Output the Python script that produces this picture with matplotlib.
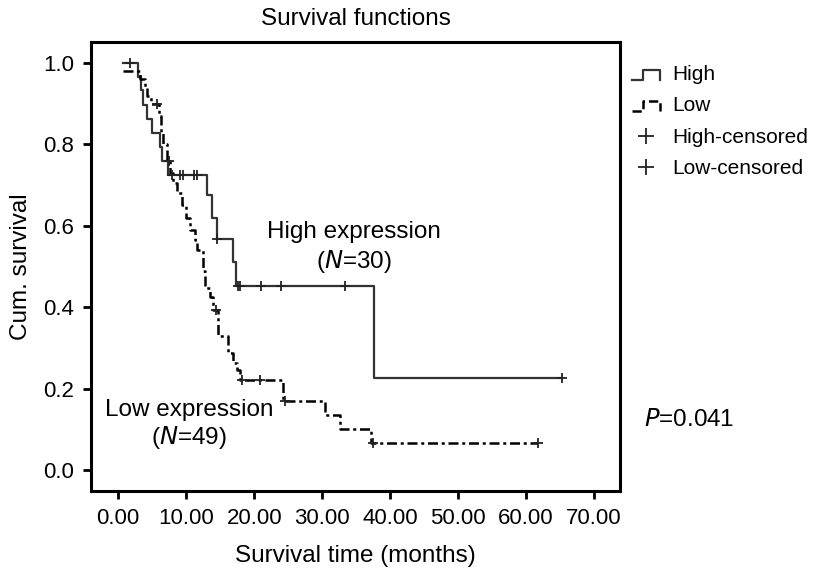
import numpy as np
import matplotlib
matplotlib.use("Agg")
import matplotlib.pyplot as plt
from matplotlib.lines import Line2D
from matplotlib.legend_handler import HandlerBase

plt.rcParams["font.family"] = ["Liberation Sans", "DejaVu Sans"]

# Kaplan-Meier steps (time in months, survival after step)
high_t = [0.7, 2.9, 3.3, 3.6, 4.2, 4.9, 6.2, 6.5, 7.3, 13.0, 13.8, 14.5, 16.9, 17.3, 37.6, 65.2]
high_s = [1.0, 0.967, 0.933, 0.897, 0.862, 0.828, 0.793, 0.759, 0.724, 0.676, 0.620, 0.567,
          0.510, 0.453, 0.227, 0.227]
high_cens_t = [1.8, 7.9, 9.1, 9.6, 11.2, 11.6, 14.6, 17.6, 17.9, 21.0, 24.0, 33.3, 65.2]
high_cens_s = [1.0, 0.724, 0.724, 0.724, 0.724, 0.724, 0.567, 0.453, 0.453, 0.453, 0.453, 0.453, 0.227]

low_t = [0.7, 3.2, 3.9, 4.3, 4.8, 6.0, 6.3, 6.6, 7.1, 7.6, 8.1, 8.7, 9.4, 9.9, 10.6, 11.3,
         11.6, 12.5, 12.8, 13.5, 14.0, 14.7, 16.2, 16.9, 17.4, 17.9, 24.2, 30.4, 32.6, 37.2, 61.7]
low_s = [0.98, 0.96, 0.94, 0.92, 0.90, 0.87, 0.83, 0.80, 0.76, 0.73, 0.705, 0.68, 0.65, 0.62,
         0.59, 0.565, 0.54, 0.49, 0.447, 0.426, 0.393, 0.33, 0.287, 0.263, 0.246, 0.221,
         0.170, 0.135, 0.10, 0.066, 0.066]
low_cens_t = [5.7, 7.4, 14.4, 18.2, 20.9, 24.5, 37.5, 61.7]
low_cens_s = [0.90, 0.76, 0.393, 0.221, 0.221, 0.170, 0.066, 0.066]

x_ticks = [0, 10, 20, 30, 40, 50, 60, 70]
y_ticks = [0.0, 0.2, 0.4, 0.6, 0.8, 1.0]

LOW_DASH = (0, (4, 1.5, 1.2, 1.5))


class StepHandler(HandlerBase):
    """Draws the little step glyph SPSS uses in its legend."""
    def create_artists(self, legend, orig_handle, xdescent, ydescent,
                       width, height, fontsize, trans):
        xs = np.array([0.0, 0.4, 0.4, 1.0, 1.0]) * width - xdescent
        ys = np.array([0.0, 0.0, 1.0, 1.0, 0.0]) * height * 0.7 - ydescent
        line = Line2D(xs, ys, color=orig_handle.get_color(),
                      linestyle=orig_handle.get_linestyle(),
                      linewidth=orig_handle.get_linewidth())
        line.set_transform(trans)
        return [line]


fig = plt.figure(figsize=(8.15, 5.8), dpi=100)
ax = fig.add_axes([0.1117, 0.1534, 0.6490, 0.7742])

ax.step(high_t, high_s, where="post", color="#333333", lw=1.6)
ax.step(low_t, low_s, where="post", color="black", lw=1.8, linestyle=LOW_DASH)
ax.plot(high_cens_t, high_cens_s, "+", color="#222222", ms=7, mew=1.3)
ax.plot(low_cens_t, low_cens_s, "+", color="#222222", ms=7, mew=1.3)

ax.text(34.6, 0.585, "High expression", ha="center", va="center", fontsize=17.5)
ax.text(34.6, 0.512, "($\\it{N}$=30)", ha="center", va="center", fontsize=17.5)
ax.text(10.4, 0.147, "Low expression", ha="center", va="center", fontsize=17.5)
ax.text(10.4, 0.079, "($\\it{N}$=49)", ha="center", va="center", fontsize=17.5)

ax.set_xlim(-4.0, 73.8)
ax.set_ylim(-0.052, 1.052)
ax.set_xticks(x_ticks)
ax.set_xticklabels(["%.2f" % v for v in x_ticks])
ax.set_yticks(y_ticks)
ax.set_yticklabels(["%.1f" % v for v in y_ticks])
ax.tick_params(direction="out", length=6, width=2, labelsize=16, pad=6)
for sp in ax.spines.values():
    sp.set_linewidth(2.2)

ax.set_title("Survival functions", fontsize=17.5, pad=12)
ax.set_xlabel("Survival time (months)", fontsize=17.5, labelpad=12)
ax.set_ylabel("Cum. survival", fontsize=17.5, labelpad=8)

handles = [
    Line2D([], [], color="#333333", lw=1.6),
    Line2D([], [], color="black", lw=1.8, linestyle=(0, (1.5, 1.5))),
    Line2D([], [], color="#222222", marker="+", ls="none", ms=12, mew=1.3),
    Line2D([], [], color="#222222", marker="+", ls="none", ms=12, mew=1.3),
]
labels = ["High", "Low", "High-censored", "Low-censored"]
fig.legend(handles, labels, loc="upper left", bbox_to_anchor=(0.7755, 0.888),
           frameon=False, fontsize=15, handlelength=1.35, handletextpad=0.6,
           labelspacing=0.6, borderpad=0, borderaxespad=0,
           handler_map={handles[0]: StepHandler(), handles[1]: StepHandler()})

fig.text(0.79, 0.275, "$\\it{P}$=0.041", fontsize=17.5, va="center")

fig.savefig("out.png", dpi=100)
